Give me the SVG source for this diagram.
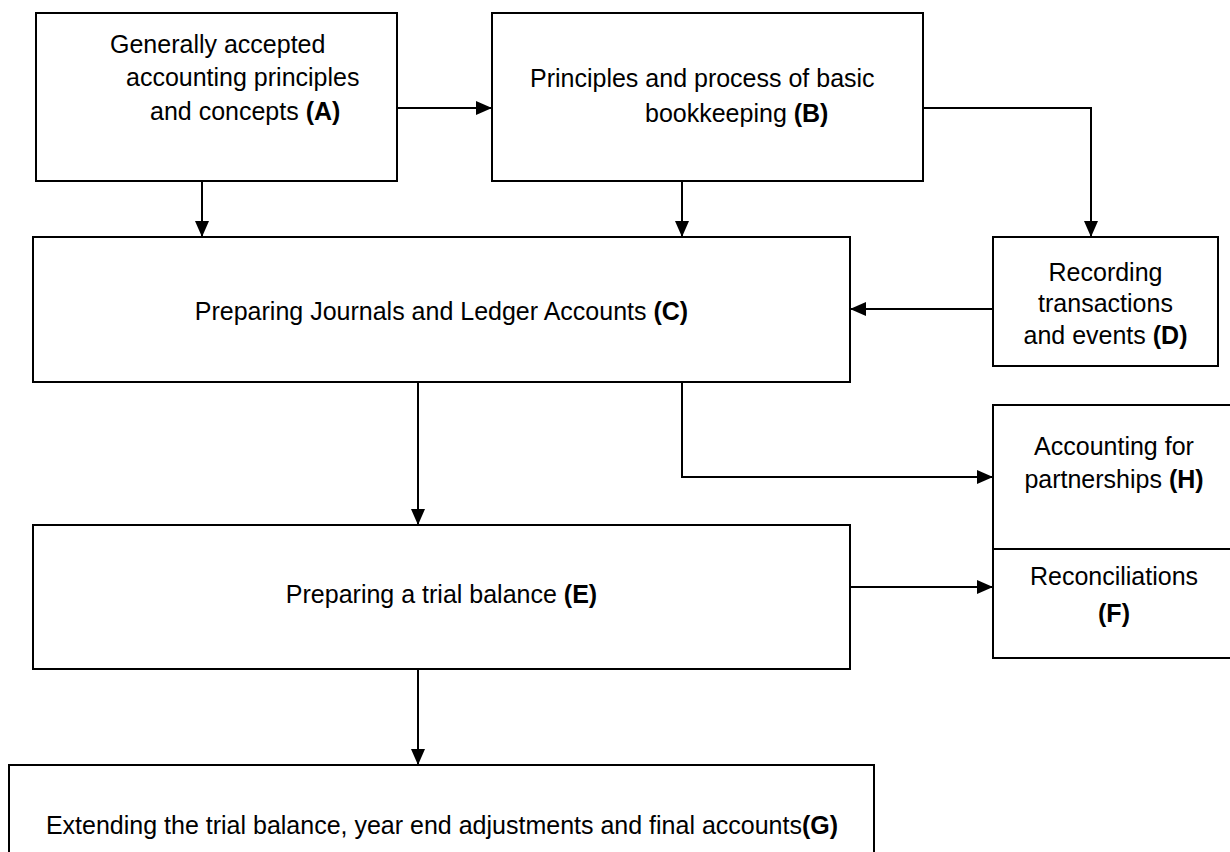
<svg xmlns="http://www.w3.org/2000/svg" width="1230" height="852" viewBox="0 0 1230 852">
<style>
.box{fill:#fff;stroke:#000;stroke-width:2}
.t{font-family:"Liberation Sans",Arial,sans-serif;font-size:25px;fill:#000}
.m{text-anchor:middle}
.b{font-weight:bold}
.c{fill:none;stroke:#000;stroke-width:2}
</style>
<defs>
<marker id="ah" markerUnits="userSpaceOnUse" markerWidth="16" markerHeight="14" refX="16" refY="7" orient="auto">
<path d="M0,0 L16,7 L0,14 z" fill="#000"/>
</marker>
</defs>
<rect width="1230" height="852" fill="#fff"/>
<g id="connectors">
<path class="c" d="M397,108 H492" marker-end="url(#ah)"/>
<path class="c" d="M923,108 H1091 V237" marker-end="url(#ah)"/>
<path class="c" d="M202,181 V237" marker-end="url(#ah)"/>
<path class="c" d="M682,181 V237" marker-end="url(#ah)"/>
<path class="c" d="M993,309 H850" marker-end="url(#ah)"/>
<path class="c" d="M418,382 V525" marker-end="url(#ah)"/>
<path class="c" d="M682,382 V477 H993" marker-end="url(#ah)"/>
<path class="c" d="M850,587 H993" marker-end="url(#ah)"/>
<path class="c" d="M418,669 V765" marker-end="url(#ah)"/>
</g>
<g id="nodeA">
<rect class="box" x="36" y="13" width="361" height="168"/>
<text class="t" x="110" y="53">Generally accepted</text>
<text class="t" x="126" y="86">accounting principles</text>
<text class="t" x="150" y="120">and concepts <tspan class="b">(A)</tspan></text>
</g>
<g id="nodeB">
<rect class="box" x="492" y="13" width="431" height="168"/>
<text class="t" x="530" y="87">Principles and process of basic</text>
<text class="t" x="645" y="122">bookkeeping <tspan class="b">(B)</tspan></text>
</g>
<g id="nodeC">
<rect class="box" x="33" y="237" width="817" height="145"/>
<text class="t m" x="441.5" y="320">Preparing Journals and Ledger Accounts <tspan class="b">(C)</tspan></text>
</g>
<g id="nodeD">
<rect class="box" x="993" y="237" width="225" height="129"/>
<text class="t m" x="1105.5" y="281">Recording</text>
<text class="t m" x="1105.5" y="312">transactions</text>
<text class="t m" x="1105.5" y="344">and events <tspan class="b">(D)</tspan></text>
</g>
<g id="nodeH">
<rect class="box" x="993" y="405" width="250" height="144"/>
<text class="t m" x="1114" y="455">Accounting for</text>
<text class="t m" x="1114" y="488">partnerships <tspan class="b">(H)</tspan></text>
</g>
<g id="nodeF">
<rect class="box" x="993" y="549" width="250" height="109"/>
<text class="t m" x="1114" y="585">Reconciliations</text>
<text class="t m b" x="1114" y="622">(F)</text>
</g>
<g id="nodeE">
<rect class="box" x="33" y="525" width="817" height="144"/>
<text class="t m" x="441.5" y="603">Preparing a trial balance <tspan class="b">(E)</tspan></text>
</g>
<g id="nodeG">
<rect class="box" x="9" y="765" width="865" height="110"/>
<text class="t m" x="442" y="834">Extending the trial balance, year end adjustments and final accounts<tspan class="b">(G)</tspan></text>
</g>
</svg>
